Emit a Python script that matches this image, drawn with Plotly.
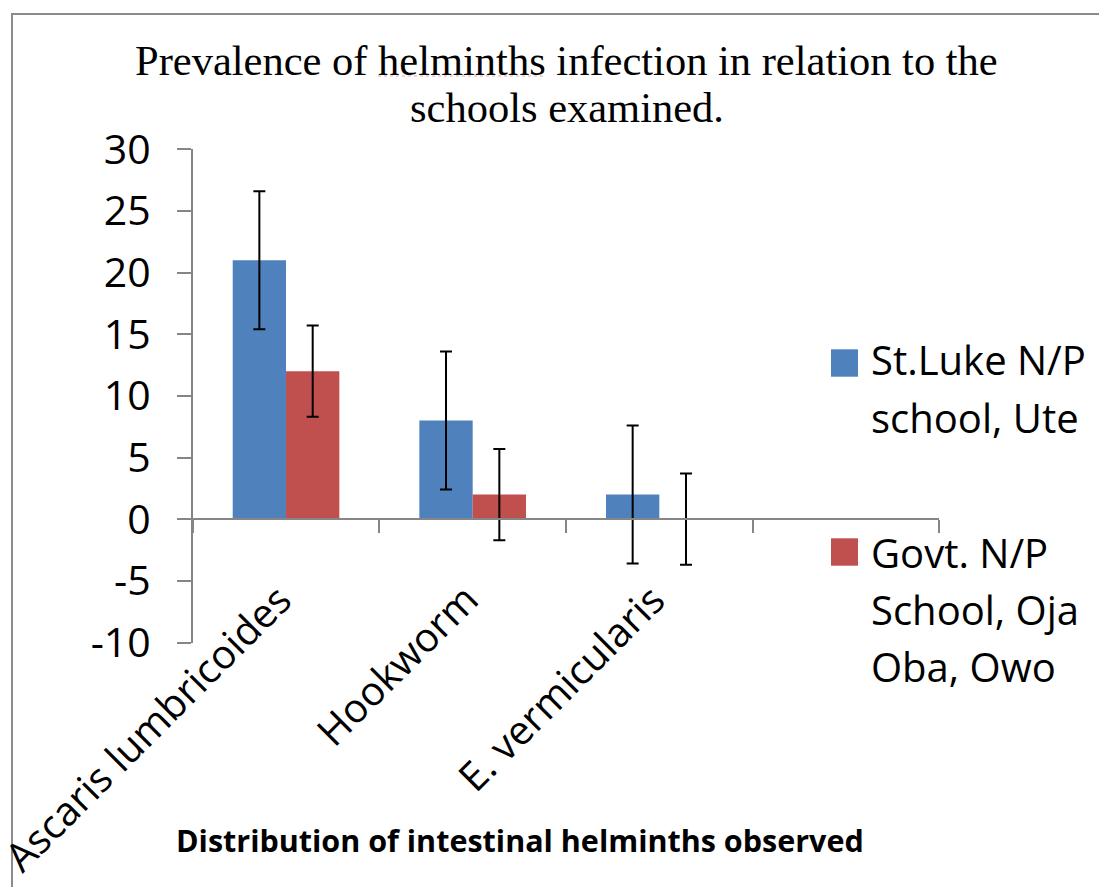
import plotly.graph_objects as go

# ---------------- data ----------------
categories = ["Ascaris lumbricoides", "Hookworm", "E. vermicularis"]
series_names = ["St.Luke N/P school, Ute", "Govt. N/P School, Oja Oba, Owo"]
legend_lines = [["St.Luke N/P", "school, Ute"], ["Govt. N/P", "School, Oja", "Oba, Owo"]]
st_luke = [21, 8, 2]
st_luke_err = [5.6, 5.6, 5.6]
govt = [12, 2, 0]
govt_err = [3.7, 3.7, 3.7]
y_ticks = [-10, -5, 0, 5, 10, 15, 20, 25, 30]
y_ticktext = [str(v) for v in y_ticks]
title_lines = ["Prevalence of helminths infection in relation to the", "schools examined."]
x_title = "Distribution of intestinal helminths observed"

# ---------------- layout helpers ----------------
# the page body has an 8px margin: figure pixel = screen pixel - 8
OFF = 8
W, H = 1107 - OFF, 887 - OFF
def X(px):
    return (px - OFF) / W
def Y(py):
    return 1 - (py - OFF) / H

BLUE = "#4F81BD"
RED = "#C0504D"
GRAY = "#868686"
SANS = "Open Sans"
SERIF = "Liberation Serif"

fig = go.Figure()
for name, vals, errs, color in [
    (series_names[0], st_luke, st_luke_err, BLUE),
    (series_names[1], govt, govt_err, RED),
]:
    fig.add_trace(go.Bar(
        x=categories, y=vals, name=name,
        marker=dict(color=color, line=dict(width=0)),
        error_y=dict(type="data", array=errs, visible=True,
                     color="black", thickness=2, width=6),
        showlegend=False,
    ))

plot_x0, plot_x1 = 192.7, 939.3
plot_top, plot_bot = 149.3, 642.5
y_dom = [Y(plot_bot), Y(plot_top)]
zero_pos = y_dom[0] + (y_dom[1] - y_dom[0]) * (0 - (-10)) / 40.0

n_slots = 4
fig.update_layout(
    width=W, height=H,
    margin=dict(l=0, r=0, t=0, b=0, autoexpand=False),
    paper_bgcolor="white", plot_bgcolor="white",
    barmode="group", bargap=1.5 / 3.5, bargroupgap=0,
    font=dict(family=SANS, color="black"),
    xaxis=dict(
        type="category", categoryorder="array", categoryarray=categories,
        range=[-0.5, n_slots - 0.5],
        domain=[X(plot_x0), X(plot_x1)],
        anchor="free", position=zero_pos,
        showline=True, linecolor=GRAY, linewidth=1.5,
        ticks="outside", ticklen=13, tickwidth=1.5, tickcolor=GRAY,
        tickmode="array",
        tickvals=[i - 0.5 for i in range(n_slots + 1)],
        ticktext=[""] * (n_slots + 1),
        showgrid=False, zeroline=False, fixedrange=True,
    ),
    yaxis=dict(
        range=[-10, 30], domain=y_dom, anchor="x",
        showline=True, linecolor=GRAY, linewidth=1.5,
        ticks="outside", ticklen=14, tickwidth=1.5, tickcolor=GRAY,
        tickmode="array", tickvals=y_ticks, ticktext=y_ticktext,
        ticklabelstandoff=18,
        tickfont=dict(family=SANS, size=41, color="black"),
        showgrid=False, zeroline=False, fixedrange=True,
    ),
)

annotations = []
# title (two lines)
for txt, yc in zip(title_lines, [60.0, 108.0]):
    annotations.append(dict(
        text=txt, x=X(566.5), y=Y(yc), xref="paper", yref="paper",
        xanchor="center", yanchor="middle", showarrow=False,
        font=dict(family=SERIF, size=42.5, color="black"),
    ))
# category labels (rotated)
for c in categories:
    annotations.append(dict(
        text=c, x=c, xref="x", y=Y(569), yref="paper",
        xanchor="right", yanchor="top", xshift=19, showarrow=False,
        textangle=-45, font=dict(family=SANS, size=40, color="black"),
    ))
# x-axis title
annotations.append(dict(
    text="<b>" + x_title + "</b>", x=X(520), y=Y(840), xref="paper", yref="paper",
    xanchor="center", yanchor="middle", showarrow=False,
    font=dict(family=SANS, size=30.5, color="black"),
))
# manual legend text
legend_baselines = [[375, 433], [568, 625, 682]]
for lines, bases in zip(legend_lines, legend_baselines):
    for ln, b in zip(lines, bases):
        annotations.append(dict(
            text=ln, x=X(869), y=Y(b - 15.5), xref="paper", yref="paper",
            xanchor="left", yanchor="middle", showarrow=False,
            font=dict(family=SANS, size=40, color="black"),
        ))
fig.update_layout(annotations=annotations)

shapes = [
    # outer border (top and left visible)
    dict(type="rect", xref="paper", yref="paper", x0=X(12), x1=1.3, y0=-0.3, y1=Y(14),
         line=dict(color="#8c8c8c", width=2), fillcolor="rgba(0,0,0,0)", layer="below"),
    # spell-check underline under "helminths"
    dict(type="line", xref="paper", yref="paper", x0=X(378), x1=X(545), y0=Y(76), y1=Y(76),
         line=dict(color="#f4a3a3", width=1.2, dash="dot")),
    # legend swatches
    dict(type="rect", xref="paper", yref="paper", x0=X(831), x1=X(858), y0=Y(376.7), y1=Y(349.3),
         line=dict(width=0), fillcolor=BLUE),
    dict(type="rect", xref="paper", yref="paper", x0=X(831), x1=X(858), y0=Y(565.7), y1=Y(538.3),
         line=dict(width=0), fillcolor=RED),
]
fig.update_layout(shapes=shapes)

fig.write_html("out.html")
